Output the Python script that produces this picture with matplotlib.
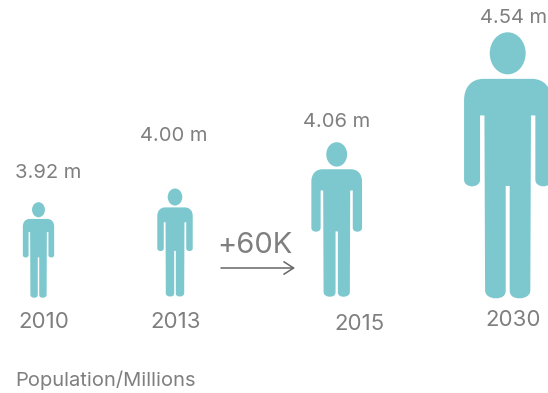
import matplotlib.pyplot as plt
from matplotlib.path import Path
from matplotlib.patches import PathPatch, Ellipse
from matplotlib.transforms import Affine2D

plt.rcParams['font.family'] = ['Inter', 'DejaVu Sans']

years = ['2010', '2013', '2015', '2030']
population = [3.92, 4.00, 4.06, 4.54]
change_label = '+60K'
footer = 'Population/Millions'

# figure layout in pixels
centre_x = [38.5, 175, 336.7, 507.7]
feet_y = [297.7, 296.5, 296.7, 298.3]
person_h = [95.5, 108, 154.5, 266]
value_xy = [(48.5, 173), (173.5, 136), (337, 122), (513.5, 18)]
year_xy = [(43.5, 321.5), (176, 321.5), (359, 324.5), (513, 320.5)]

teal = '#7cc8ce'
grey = '#7f7f7f'


def person_path():
    # right half of the body outline, height 1, feet at y=0; L = line, C = cubic
    half = [
        ('L', [(0.09, 0.825)]),
        ('C', [(0.14, 0.825), (0.164, 0.79), (0.164, 0.745)]),
        ('L', [(0.164, 0.445)]),
        ('C', [(0.164, 0.430), (0.150, 0.421), (0.134, 0.421)]),
        ('C', [(0.118, 0.421), (0.104, 0.430), (0.104, 0.445)]),
        ('L', [(0.104, 0.6875)]),
        ('L', [(0.0875, 0.6875)]),
        ('L', [(0.085, 0.03)]),
        ('C', [(0.085, 0.01), (0.065, 0.0), (0.045, 0.0)]),
        ('C', [(0.020, 0.0), (0.0075, 0.01), (0.0075, 0.03)]),
        ('L', [(0.0075, 0.4225)]),
    ]
    verts = [(0, 0.825)]
    codes = [Path.MOVETO]
    for kind, pts in half:
        verts += pts
        codes += [Path.LINETO] if kind == 'L' else [Path.CURVE4] * 3
    # cross the top of the leg gap, then mirror the outline back up the left side
    verts.append((-0.0075, 0.4225))
    codes.append(Path.LINETO)
    ends = [(0, 0.825)] + [seg[1][-1] for seg in half]
    for i in range(len(half) - 1, -1, -1):
        kind, pts = half[i]
        start = ends[i]
        if kind == 'L':
            verts.append((-start[0], start[1]))
            codes.append(Path.LINETO)
        else:
            verts += [(-pts[1][0], pts[1][1]), (-pts[0][0], pts[0][1]), (-start[0], start[1])]
            codes += [Path.CURVE4] * 3
    return Path(verts, codes)


fig = plt.figure(figsize=(5.48, 3.93), dpi=100)
ax = fig.add_axes([0, 0, 1, 1])
ax.set_xlim(0, 548)
ax.set_ylim(393, 0)
ax.axis('off')

body = person_path()
for x, y, h in zip(centre_x, feet_y, person_h):
    # y axis runs downwards, so flip the unit shape
    tr = Affine2D().scale(h, -h).translate(x, y)
    ax.add_patch(PathPatch(body.transformed(tr), fc=teal, ec='none'))
    ax.add_patch(Ellipse((x, y - 0.921 * h), 0.135 * h, 0.158 * h, fc=teal, ec='none'))

for val, (x, y) in zip(population, value_xy):
    ax.text(x, y, f'{val:.2f} m', ha='center', va='center', fontsize=14.5, color=grey)
for yr, (x, y) in zip(years, year_xy):
    ax.text(x, y, yr, ha='center', va='center', fontsize=16, color=grey)

ax.text(254.5, 245.5, change_label, ha='center', va='center', fontsize=21, color=grey)
ax.annotate('', xy=(295, 268), xytext=(221, 268),
            arrowprops=dict(arrowstyle='->,head_length=0.7,head_width=0.45', color='#666666', lw=1.1,
                            shrinkA=0, shrinkB=0))
ax.text(15, 380, footer, ha='left', va='center', fontsize=14.5, color=grey)

fig.savefig('out.png', dpi=100)
